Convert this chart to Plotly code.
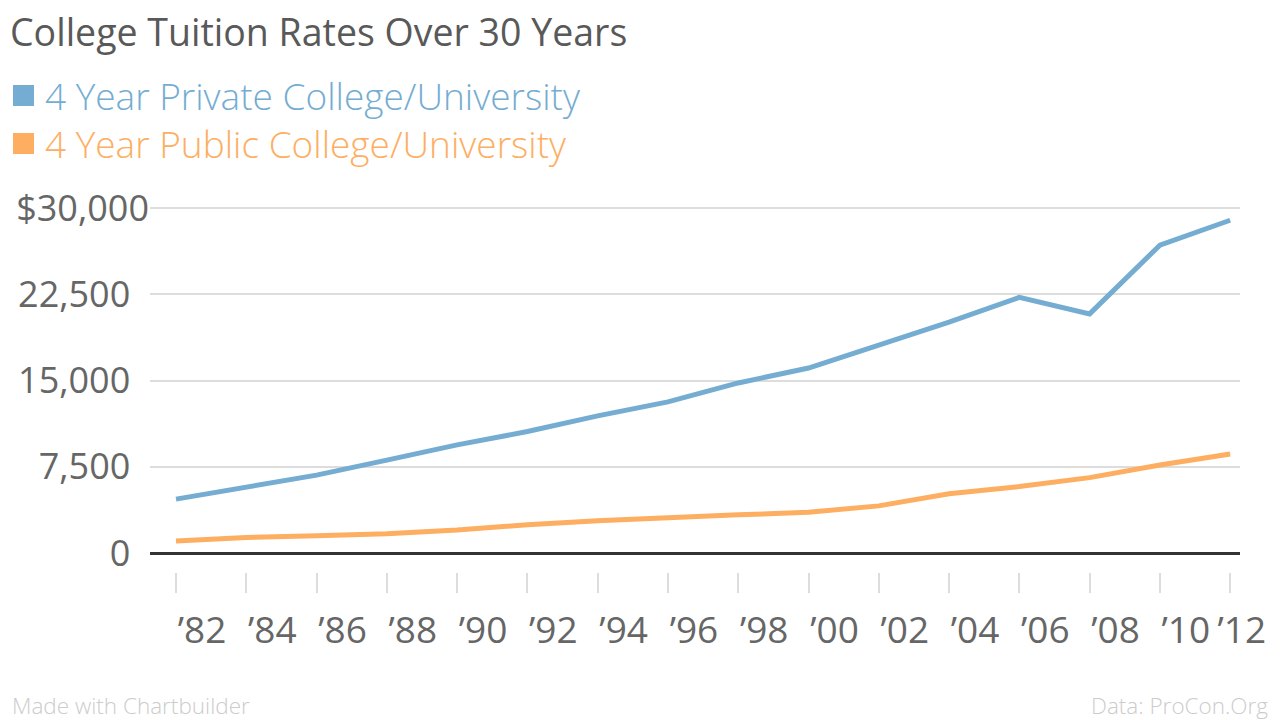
import plotly.graph_objects as go

# tuition data
years = [1982, 1984, 1986, 1988, 1990, 1992, 1994, 1996,
         1998, 2000, 2002, 2004, 2006, 2008, 2010, 2012]
private = [4690, 5700, 6780, 8080, 9410, 10570, 11930, 13150,
           14800, 16100, 18120, 20090, 22250, 20810, 26790, 28960]
public = [1040, 1360, 1510, 1680, 2000, 2460, 2810, 3100,
          3320, 3550, 4100, 5150, 5780, 6560, 7660, 8610]

NBSP = "\u00a0"
year_labels = ["\u2019" + str(y)[2:] for y in years]
year_labels[-1] += NBSP * 3  # last label is pulled back inside the chart
y_ticks = [0, 7500, 15000, 22500, 30000]
y_labels = ["0", "7,500", "15,000", "22,500"]
y_labels = [t + NBSP * 2 for t in y_labels] + ["$30,000"]

BLUE = "#74add1"
ORANGE = "#fdae61"
GREY = "#666666"
FONT = "Open Sans"

fig = go.Figure()
fig.add_trace(go.Scatter(x=years, y=private, mode="lines",
                         line=dict(color=BLUE, width=5), showlegend=False))
fig.add_trace(go.Scatter(x=years, y=public, mode="lines",
                         line=dict(color=ORANGE, width=5), showlegend=False))

# legend-only entries with square swatches, one legend box per row
fig.add_trace(go.Scatter(x=[None], y=[None], mode="markers", legend="legend",
                         marker=dict(symbol="square", size=16, color=BLUE,
                                     line=dict(color=BLUE, width=8)),
                         name="<span style='color:%s'>4 Year Private College/University</span>" % BLUE))
fig.add_trace(go.Scatter(x=[None], y=[None], mode="markers", legend="legend2",
                         marker=dict(symbol="square", size=16, color=ORANGE,
                                     line=dict(color=ORANGE, width=8)),
                         name="<span style='color:%s'>4 Year Public College/University</span>" % ORANGE))

legend_style = dict(x=2 / 1280, xanchor="left", yanchor="middle",
                    xref="container", yref="container",
                    font=dict(family=FONT, size=37, weight=300),
                    itemsizing="trace", itemwidth=33,
                    bgcolor="rgba(0,0,0,0)")

L, R, T, B = 150, 40, 200, 127
fig.update_layout(
    width=1280, height=720,
    margin=dict(l=L, r=R, t=T, b=B, autoexpand=False),
    paper_bgcolor="white", plot_bgcolor="white",
    font=dict(family=FONT, color=GREY),
    title=dict(text="College Tuition Rates Over 30 Years",
               font=dict(family=FONT, size=37.5, color="#595959"),
               xref="container", yref="container",
               x=10 / 1280, y=1 - 33 / 720, xanchor="left", yanchor="middle"),
    legend=dict(y=1 - 96 / 720, **legend_style),
    legend2=dict(y=1 - 144 / 720, **legend_style),
    xaxis=dict(range=[1981.26, 2012.28], tickvals=years, ticktext=year_labels,
               showgrid=False, showline=False, zeroline=False, automargin=False,
               ticks="inside", ticklen=20, tickwidth=2, tickcolor="#dddddd",
               ticklabelshift=26, ticklabelstandoff=12, ticklabeloverflow="allow",
               tickfont=dict(family=FONT, size=37, color=GREY)),
    yaxis=dict(range=[-3481, 30722], tickvals=y_ticks, ticktext=y_labels,
               showgrid=True, gridcolor="#dddddd", gridwidth=2,
               zeroline=True, zerolinecolor="#333333", zerolinewidth=3,
               showline=False, ticks="", ticklabelstandoff=0, automargin=False,
               tickfont=dict(family=FONT, size=36, color=GREY)),
)

fig.add_annotation(text="Made with Chartbuilder", xref="paper", yref="paper",
                   x=(10 - L) / (1280 - L - R), y=(593 - 705) / (593 - T),
                   xanchor="left", yanchor="middle", showarrow=False,
                   font=dict(family=FONT, size=22.5, color="#cccccc", weight=300))
fig.add_annotation(text="Data: ProCon.Org", xref="paper", yref="paper",
                   x=(1270 - L) / (1280 - L - R), y=(593 - 705) / (593 - T),
                   xanchor="right", yanchor="middle", showarrow=False,
                   font=dict(family=FONT, size=22.5, color="#cccccc", weight=300))

fig.write_html("out.html", config={"displayModeBar": False},
               post_script="document.body.style.margin='0';")
